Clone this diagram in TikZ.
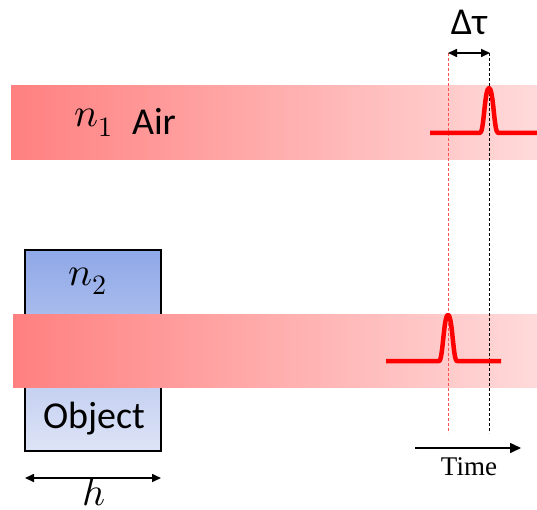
\documentclass[tikz,border=0pt]{standalone}
\usepackage{fontspec}
\usepackage{unicode-math}
\setsansfont{Carlito}
\newfontfamily\timesfont{Liberation Serif}
\usetikzlibrary{arrows.meta}
\definecolor{beamL}{RGB}{255,128,128}
\definecolor{beamR}{RGB}{255,218,218}
\definecolor{objT}{RGB}{143,168,232}
\definecolor{objB}{RGB}{222,228,246}
\definecolor{dashred}{RGB}{255,80,80}
\tikzset{
  beam/.style={left color=beamL, right color=beamR, draw=none},
  pulse/.style={draw=red, line width=4.5pt, line join=round},
  guide/.style={densely dashed, line width=0.8pt},
  dim/.style={line width=1.6pt, {Triangle[length=9pt,width=8pt]}-{Triangle[length=9pt,width=8pt]}},
  lbl/.style={inner sep=0pt, anchor=base, font=\sffamily\fontsize{38}{42}\selectfont},
  mlbl/.style={inner sep=0pt, anchor=base, font=\fontsize{40}{44}\selectfont},
}
\begin{document}
\begin{tikzpicture}[x=1pt,y=-1pt]
\useasboundingbox (0,0) rectangle (537,510);
% beam 1
\fill[beam] (11,86) rectangle (537,160);
% object
\draw[line width=1.5pt, top color=objT, bottom color=objB] (25,250) rectangle (161,451);
% beam 2
\fill[beam] (13,314) rectangle (537,387);
% guide lines
\coordinate (rt) at (448,53); \coordinate (rb) at (448,433);
\coordinate (kt) at (489,53); \coordinate (kb) at (489,433);
\draw[guide, dashred] (rt) -- (rb);
\draw[guide, black] (kt) -- (kb);
% pulses
\draw[pulse] (430,133) -- (480,133) .. controls (484,133) and (484.5,88) .. (489,88)
  .. controls (493.5,88) and (494,133) .. (498,133) -- (537,133);
\draw[pulse] (386,361) -- (439,361) .. controls (443,361) and (443.5,315) .. (448,315)
  .. controls (452.5,315) and (453,361) .. (457,361) -- (501,361);
% labels
\node[mlbl] (n1) at (94,127) {$n_1$};
\node[lbl] (air) at (154,135) {Air};
\node[mlbl] (n2) at (88,285) {$n_2$};
\node[lbl] (obj) at (94,428) {Object};
\node[mlbl] (h) at (94,505) {$h$};
\node[lbl] (dt) at (469,35) {Δτ};
\node[inner sep=0pt, anchor=base, font=\timesfont\fontsize{27}{30}\selectfont] (time) at (469,475) {Time};
% dimension arrows
\coordinate (ha) at (25,478); \coordinate (hb) at (161,478);
\draw[dim] (ha) -- (hb);
\coordinate (da) at (448,53); \coordinate (db) at (490,53);
\draw[dim] (da) -- (db);
\coordinate (ta) at (415,448); \coordinate (tb) at (521,448);
\draw[line width=1.6pt, -{Triangle[length=11pt,width=10pt]}] (ta) -- (tb);
\end{tikzpicture}
\end{document}
